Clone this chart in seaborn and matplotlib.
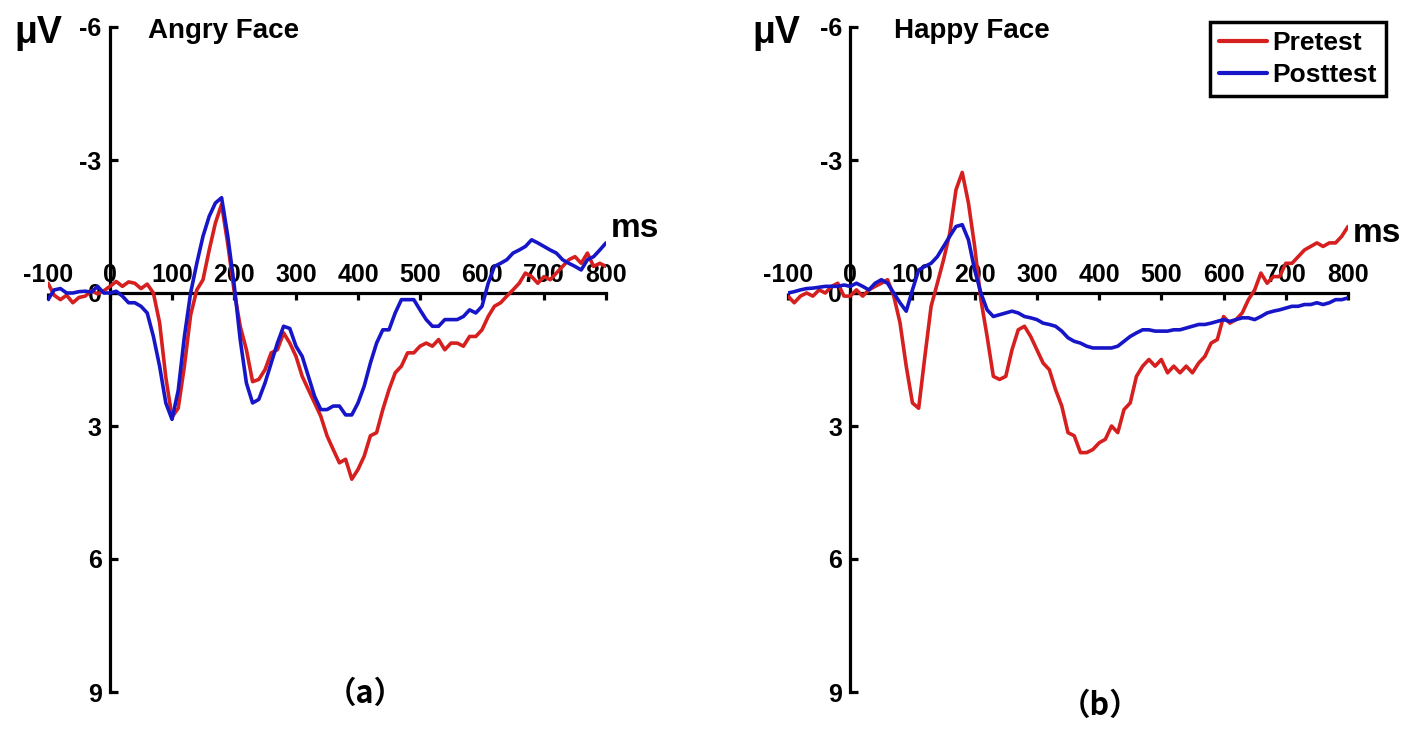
import numpy as np
import pandas as pd
import matplotlib
matplotlib.use("Agg")
import matplotlib.pyplot as plt
import seaborn as sns

# ---------------- data ----------------
time_ms = list(range(-100, 801, 10))

angry_pretest = [
    -0.22, 0.05, 0.15, 0.05, 0.22, 0.10, 0.07, -0.05, 0.02, -0.05,
    -0.15, -0.26, -0.15, -0.25, -0.22, -0.10, -0.20, 0.00, 0.67, 1.90,
    2.80, 2.60, 1.65, 0.50, -0.07, -0.30, -0.97, -1.58, -2.00, -1.10,
    -0.07, 0.75, 1.28, 2.00, 1.95, 1.73, 1.35, 1.28, 0.90, 1.13,
    1.43, 1.88, 2.18, 2.48, 2.78, 3.22, 3.53, 3.83, 3.75, 4.20,
    3.98, 3.68, 3.22, 3.15, 2.63, 2.18, 1.80, 1.65, 1.35, 1.35,
    1.20, 1.13, 1.20, 1.05, 1.28, 1.13, 1.13, 1.20, 0.98, 0.98,
    0.83, 0.53, 0.30, 0.22, 0.07, -0.07, -0.22, -0.45, -0.37, -0.22,
    -0.37, -0.30, -0.45, -0.60, -0.75, -0.82, -0.67, -0.90, -0.60, -0.67,
    -0.60,
]
angry_posttest = [
    0.15, -0.07, -0.10, 0.00, 0.00, -0.03, -0.04, -0.02, -0.15, 0.00,
    0.00, -0.04, 0.07, 0.22, 0.22, 0.30, 0.45, 0.98, 1.65, 2.48,
    2.85, 2.20, 0.98, 0.00, -0.67, -1.28, -1.73, -2.03, -2.15, -1.28,
    -0.22, 1.05, 2.03, 2.48, 2.40, 2.03, 1.58, 1.13, 0.75, 0.80,
    1.20, 1.43, 1.88, 2.33, 2.63, 2.63, 2.55, 2.55, 2.75, 2.75,
    2.48, 2.10, 1.58, 1.13, 0.83, 0.83, 0.45, 0.15, 0.15, 0.15,
    0.38, 0.60, 0.75, 0.75, 0.60, 0.60, 0.60, 0.53, 0.38, 0.45,
    0.30, -0.22, -0.60, -0.67, -0.75, -0.90, -0.97, -1.05, -1.20, -1.13,
    -1.05, -0.97, -0.90, -0.75, -0.67, -0.60, -0.52, -0.75, -0.82, -0.97,
    -1.13,
]
happy_pretest = [
    0.07, 0.22, 0.07, 0.00, 0.07, -0.07, 0.00, -0.15, -0.22, 0.07,
    0.07, -0.07, 0.07, -0.07, -0.15, -0.22, -0.30, 0.07, 0.67, 1.65,
    2.48, 2.60, 1.43, 0.30, -0.22, -0.75, -1.35, -2.33, -2.72, -2.03,
    -1.05, 0.15, 0.98, 1.88, 1.95, 1.88, 1.28, 0.83, 0.75, 0.98,
    1.28, 1.58, 1.73, 2.18, 2.55, 3.15, 3.22, 3.60, 3.60, 3.53,
    3.38, 3.30, 3.00, 3.15, 2.63, 2.48, 1.88, 1.65, 1.50, 1.65,
    1.50, 1.80, 1.65, 1.80, 1.65, 1.80, 1.58, 1.43, 1.13, 1.05,
    0.53, 0.68, 0.60, 0.45, 0.15, -0.07, -0.45, -0.22, -0.37, -0.37,
    -0.67, -0.67, -0.82, -0.97, -1.05, -1.13, -1.05, -1.13, -1.13, -1.28,
    -1.50,
]
happy_posttest = [
    0.00, -0.03, -0.07, -0.10, -0.11, -0.13, -0.15, -0.15, -0.15, -0.18,
    -0.15, -0.22, -0.15, -0.07, -0.22, -0.30, -0.22, 0.00, 0.22, 0.41,
    -0.07, -0.52, -0.60, -0.67, -0.82, -1.05, -1.28, -1.50, -1.54, -1.20,
    -0.52, 0.00, 0.38, 0.53, 0.49, 0.45, 0.41, 0.45, 0.53, 0.56,
    0.60, 0.68, 0.71, 0.75, 0.86, 1.01, 1.09, 1.13, 1.20, 1.24,
    1.24, 1.24, 1.24, 1.20, 1.09, 0.98, 0.90, 0.83, 0.83, 0.86,
    0.86, 0.86, 0.83, 0.83, 0.79, 0.75, 0.71, 0.71, 0.68, 0.64,
    0.60, 0.64, 0.60, 0.56, 0.56, 0.60, 0.53, 0.45, 0.41, 0.38,
    0.34, 0.30, 0.30, 0.26, 0.26, 0.22, 0.26, 0.22, 0.15, 0.15,
    0.11,
]

conditions = ["Pretest", "Posttest"]
x_ticks = [-100, 0, 100, 200, 300, 400, 500, 600, 700, 800]
y_ticks = [-6, -3, 0, 3, 6, 9]
panel_titles = ["Angry Face", "Happy Face"]
panel_letters = ["\uff08a\uff09", "\uff08b\uff09"]
colors = {"Pretest": "#d61f1f", "Posttest": "#1616c8"}

def make_df(pre, post):
    return pd.concat([
        pd.DataFrame({"time": time_ms, "amp": pre, "cond": "Pretest"}),
        pd.DataFrame({"time": time_ms, "amp": post, "cond": "Posttest"}),
    ], ignore_index=True)

dfs = [make_df(angry_pretest, angry_posttest), make_df(happy_pretest, happy_posttest)]

# ---------------- style ----------------
sns.set_theme(style="white")
plt.rcParams["font.family"] = ["Liberation Sans", "DejaVu Sans"]
plt.rcParams["font.weight"] = "bold"
plt.rcParams["text.color"] = "black"
plt.rcParams["xtick.color"] = "black"
plt.rcParams["ytick.color"] = "black"
plt.rcParams["axes.labelcolor"] = "black"

fig = plt.figure(figsize=(14.17, 7.34), dpi=100)
positions = [
    [48 / 1417, 42 / 734, 558 / 1417, 665 / 734],
    [788 / 1417, 42 / 734, 560 / 1417, 665 / 734],
]
axes = [fig.add_axes(p) for p in positions]

for i, (ax, df) in enumerate(zip(axes, dfs)):
    sns.lineplot(data=df, x="time", y="amp", hue="cond", hue_order=conditions,
                 palette=colors, linewidth=2.6, ax=ax, legend=(i == 1))
    ax.set_xlim(-100, 800)
    ax.set_ylim(9, -6)
    ax.set_xlabel("")
    ax.set_ylabel("")
    ax.spines["right"].set_visible(False)
    ax.spines["bottom"].set_visible(False)
    ax.spines["left"].set_position(("data", 0))
    ax.spines["top"].set_position(("data", 0))
    ax.spines["top"].set_bounds(0, 800)
    for s in ("left", "top"):
        ax.spines[s].set_linewidth(2.3)
        ax.spines[s].set_color("black")
        ax.spines[s].set_zorder(1)
    ax.xaxis.set_ticks_position("top")
    ax.set_xticks(x_ticks)
    ax.set_xticklabels([str(t) for t in x_ticks])
    ax.tick_params(axis="x", direction="in", length=5, width=2.3, color="black",
                   labelsize=18, labelcolor="black", pad=4, top=True, bottom=False,
                   labeltop=True, labelbottom=False)
    ax.set_yticks(y_ticks)
    ax.set_yticklabels([str(t) for t in y_ticks])
    ax.tick_params(axis="y", direction="in", length=6, width=2.3, color="black",
                   labelsize=18, labelcolor="black", pad=6, left=True)
    for lab in ax.get_xticklabels() + ax.get_yticklabels():
        lab.set_fontweight("bold")
    ax.grid(False)
    ax.text(62 if i == 0 else 70, -5.9, panel_titles[i], fontsize=20,
            fontweight="bold", va="center", ha="left", color="black")
    ax.text(808, -1.45 if i == 0 else -1.35, "ms", fontsize=24,
            fontweight="bold", va="center", ha="left", color="black")

# µV labels
for xpix in (14, 752):
    fig.text(xpix / 1417, 1 - 33 / 734, "\u03bcV", fontsize=27,
             fontweight="bold", va="center", ha="left", color="black")

# panel letters
fig.text(365 / 1417, 1 - 694 / 734, panel_letters[0], fontsize=22,
         fontweight="bold", ha="center", va="center", color="black",
         family=["Noto Sans CJK SC", "DejaVu Sans"])
fig.text(1100 / 1417, 1 - 706 / 734, panel_letters[1], fontsize=22,
         fontweight="bold", ha="center", va="center", color="black",
         family=["Noto Sans CJK SC", "DejaVu Sans"])

# legend
leg_ax = axes[1]
handles, labels = leg_ax.get_legend_handles_labels()
leg_ax.get_legend().remove()
leg = fig.legend(handles, labels, loc="upper right",
                 bbox_to_anchor=(1386 / 1417, 1 - 22 / 734),
                 frameon=True, fancybox=False, edgecolor="black", framealpha=1,
                 handlelength=1.8, handletextpad=0.2, borderpad=0.35,
                 labelspacing=0.3, borderaxespad=0,
                 prop={"size": 19, "weight": "bold"})
leg.get_frame().set_linewidth(2.5)
leg.get_frame().set_edgecolor("black")
for t in leg.get_texts():
    t.set_color("black")
for h in leg.get_lines():
    h.set_linewidth(3)

fig.savefig("out.png", dpi=100, facecolor="white")
